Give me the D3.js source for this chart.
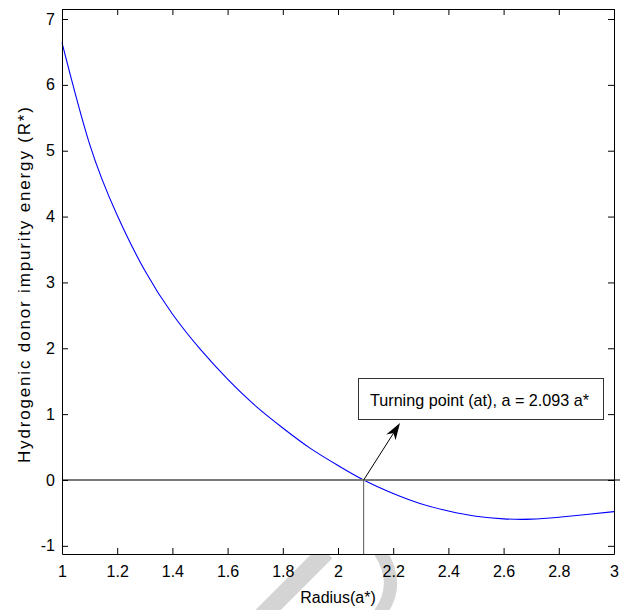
<!DOCTYPE html>
<html>
<head>
<meta charset="utf-8">
<script src="https://cdn.jsdelivr.net/npm/d3@7"></script>
<style>
  body { margin: 0; background: #fff; }
  svg { display: block; }
  text { font-family: Arial, "Liberation Sans", Helvetica, sans-serif; }
</style>
</head>
<body>
<svg id="chart" width="626" height="610"></svg>
<script>
// values
const radius = [1.0, 1.1, 1.2, 1.3, 1.4, 1.5, 1.6, 1.7, 1.8, 1.9, 2.0, 2.093,
  2.2, 2.3, 2.4, 2.5, 2.6, 2.7, 2.8, 2.9, 3.0];
const energy = [6.64, 5.10, 4.02, 3.18, 2.52, 1.99, 1.53, 1.13, 0.79, 0.48, 0.22, 0.00,
  -0.205, -0.36, -0.47, -0.55, -0.59, -0.595, -0.565, -0.525, -0.48];
const xTicks = [1, 1.2, 1.4, 1.6, 1.8, 2, 2.2, 2.4, 2.6, 2.8, 3];
const yTicks = [-1, 0, 1, 2, 3, 4, 5, 6, 7];
const xRange = [1, 3];
const yRange = [-1.124, 7.152];
const turningPoint = 2.093;
const noteText = 'Turning point (at), a = 2.093 a*';

const plot = { left: 62, right: 614, top: 9, bottom: 554 };
const tickLen = 6;

const svg = d3.select('#chart');

const x = d3.scaleLinear().domain(xRange).range([plot.left, plot.right]);
const y = d3.scaleLinear().domain(yRange).range([plot.bottom, plot.top]);

// faint watermark strokes under the x axis
const mark = svg.append('g').attr('fill', 'none').attr('stroke', '#d4d4d4');
mark.append('path').attr('stroke-width', 18)
  .attr('d', 'M326,552 L262,616');
mark.append('path').attr('stroke-width', 13)
  .attr('d', 'M380,552 Q402,585 378,616');

// plot background
svg.append('rect')
  .attr('x', plot.left).attr('y', plot.top)
  .attr('width', plot.right - plot.left).attr('height', plot.bottom - plot.top)
  .attr('fill', '#fff');

// curve
const line = d3.line()
  .x((d, i) => x(radius[i]))
  .y(d => y(d))
  .curve(d3.curveNatural);

svg.append('path')
  .datum(energy)
  .attr('d', line)
  .attr('fill', 'none')
  .attr('stroke', '#0000ff')
  .attr('stroke-width', 1.1);

// zero line and drop line at the turning point
svg.append('line')
  .attr('x1', plot.left).attr('x2', plot.right + 6)
  .attr('y1', y(0)).attr('y2', y(0))
  .attr('stroke', '#7a7a7a')
  .attr('stroke-width', 2);

svg.append('line')
  .attr('x1', x(turningPoint)).attr('x2', x(turningPoint))
  .attr('y1', y(0)).attr('y2', plot.bottom)
  .attr('stroke', '#555')
  .attr('stroke-width', 1);

// axes, MATLAB style box with inward ticks
const styleAxis = g => {
  g.selectAll('.domain').attr('stroke', '#000').attr('stroke-width', 1);
  g.selectAll('.tick line').attr('stroke', '#000');
  g.selectAll('.tick text').attr('fill', '#000').style('font-size', '16px').style('font-family', 'Arial, "Liberation Sans", sans-serif');
};

svg.append('g')
  .attr('transform', `translate(0,${plot.bottom})`)
  .call(d3.axisBottom(x).tickValues(xTicks).tickFormat(d => String(d))
    .tickSizeInner(-tickLen).tickSizeOuter(0).tickPadding(12))
  .call(styleAxis);

svg.append('g')
  .attr('transform', `translate(0,${plot.top})`)
  .call(d3.axisTop(x).tickValues(xTicks).tickFormat('')
    .tickSizeInner(-tickLen).tickSizeOuter(0))
  .call(styleAxis);

svg.append('g')
  .attr('transform', `translate(${plot.left},0)`)
  .call(d3.axisLeft(y).tickValues(yTicks).tickFormat(d => String(d))
    .tickSizeInner(-tickLen).tickSizeOuter(0).tickPadding(7))
  .call(styleAxis);

svg.append('g')
  .attr('transform', `translate(${plot.right},0)`)
  .call(d3.axisRight(y).tickValues(yTicks).tickFormat('')
    .tickSizeInner(-tickLen).tickSizeOuter(0))
  .call(styleAxis);

// axis titles
svg.append('text')
  .attr('x', (plot.left + plot.right) / 2)
  .attr('y', 603)
  .attr('text-anchor', 'middle')
  .style('font-size', '16px')
  .text('Radius(a*)');

svg.append('text')
  .attr('transform', 'translate(30,285) rotate(-90)')
  .attr('text-anchor', 'middle')
  .attr('textLength', 356)
  .attr('lengthAdjust', 'spacing')
  .style('font-size', '17px')
  .text('Hydrogenic donor impurity energy  (R*)');

// annotation: arrow from the turning point to the text box
const start = [x(turningPoint), y(0)];
const tip = [400, 423];
const dx = tip[0] - start[0], dy = tip[1] - start[1];
const len = Math.hypot(dx, dy);
const u = [dx / len, dy / len], n = [-u[1], u[0]];
const headLen = 17, headW = 5.5, notch = 5;
const back = [tip[0] - (headLen - notch) * u[0], tip[1] - (headLen - notch) * u[1]];

svg.append('line')
  .attr('x1', start[0]).attr('y1', start[1])
  .attr('x2', back[0]).attr('y2', back[1])
  .attr('stroke', '#000').attr('stroke-width', 1);

svg.append('path')
  .attr('d', d3.line()([
    tip,
    [tip[0] - headLen * u[0] + headW * n[0], tip[1] - headLen * u[1] + headW * n[1]],
    back,
    [tip[0] - headLen * u[0] - headW * n[0], tip[1] - headLen * u[1] - headW * n[1]],
  ]) + 'Z')
  .attr('fill', '#000');

const note = svg.append('g');
note.append('rect')
  .attr('x', 358.5).attr('y', 378.5)
  .attr('width', 245).attr('height', 41)
  .attr('fill', '#fff')
  .attr('stroke', '#333')
  .attr('stroke-width', 1);
note.append('text')
  .attr('x', 370).attr('y', 406)
  .attr('textLength', 219)
  .attr('lengthAdjust', 'spacingAndGlyphs')
  .style('font-size', '17px')
  .text(noteText);
</script>
</body>
</html>
